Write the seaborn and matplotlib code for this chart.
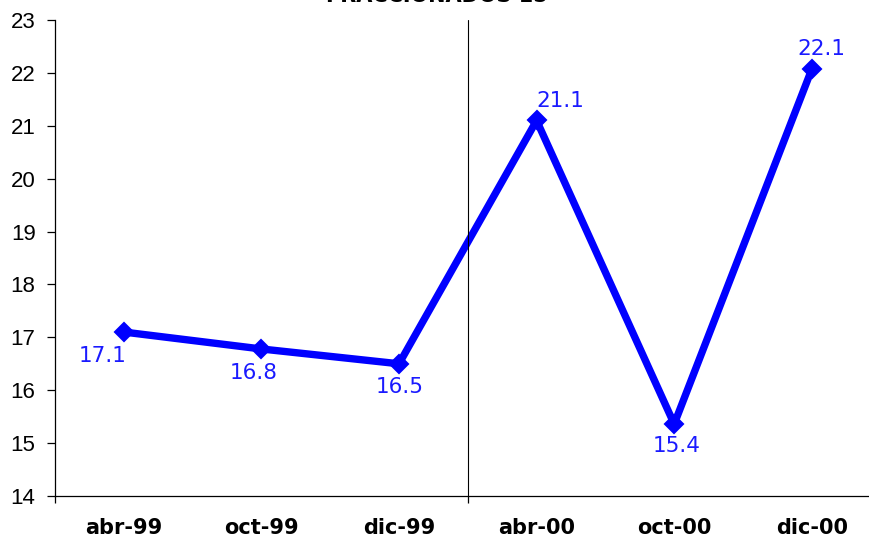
import numpy as np
import pandas as pd
import seaborn as sns
from matplotlib import pyplot as plt

# datos
periodos = ['abr-99', 'oct-99', 'dic-99', 'abr-00', 'oct-00', 'dic-00']
valores = [17.1, 16.78, 16.5, 21.1, 15.36, 22.07]
etiquetas = ['17.1', '16.8', '16.5', '21.1', '15.4', '22.1']
# desplazamiento de cada etiqueta (pixeles)
desplaz = [(-21, -24), (-8, -24), (1, -23), (24, 19), (2, -22), (10, 20)]
titulo = 'FRACCIONADOS 15'

sns.set_style('white')

df = pd.DataFrame({'periodo': periodos, 'valor': valores})

fig = plt.figure(figsize=(8.7, 5.39), dpi=100)
ax = fig.add_axes([55 / 870, 43 / 539, 825.6 / 870, 476 / 539])

sns.lineplot(data=df, x='periodo', y='valor', sort=False, ax=ax,
             color='#0000ff', linewidth=5.3, marker='D', markersize=9,
             markeredgecolor='#0000ff', markeredgewidth=1.5)

for i, (v, t) in enumerate(zip(valores, etiquetas)):
    ax.annotate(t, (i, v), xytext=desplaz[i], textcoords='offset pixels',
                ha='center', va='center', color='#1a1aff', fontsize=15.5,
                family='DejaVu Sans')

ax.axvline(2.5, color='black', linewidth=0.8)

ax.set_xlim(-0.5, 5.5)
ax.set_ylim(14, 23)
ax.set_yticks(range(14, 24))
ax.set_xticks([-0.5, 2.5], minor=True)
ax.set_xlabel('')
ax.set_ylabel('')

for s in ['top', 'right']:
    ax.spines[s].set_visible(False)
for s in ['left', 'bottom']:
    ax.spines[s].set_color('black')
    ax.spines[s].set_linewidth(0.9)

ax.tick_params(axis='y', which='major', left=True, length=6, width=0.9,
               color='black', labelcolor='black', pad=8, labelsize=16)
ax.tick_params(axis='x', which='major', length=0, pad=16, labelcolor='black')
ax.tick_params(axis='x', which='minor', bottom=True, length=5, width=0.9,
               color='black')
for lab in ax.get_yticklabels():
    lab.set_family('Liberation Sans')
for lab in ax.get_xticklabels():
    lab.set_family('DejaVu Sans')
    lab.set_fontweight('bold')
    lab.set_fontsize(15)

fig.text(437 / 870, 1 - 2.5 / 539, titulo, ha='center', va='baseline',
         fontsize=15, fontweight='bold', family='DejaVu Sans', color='black')

fig.savefig('out.png', dpi=100)
